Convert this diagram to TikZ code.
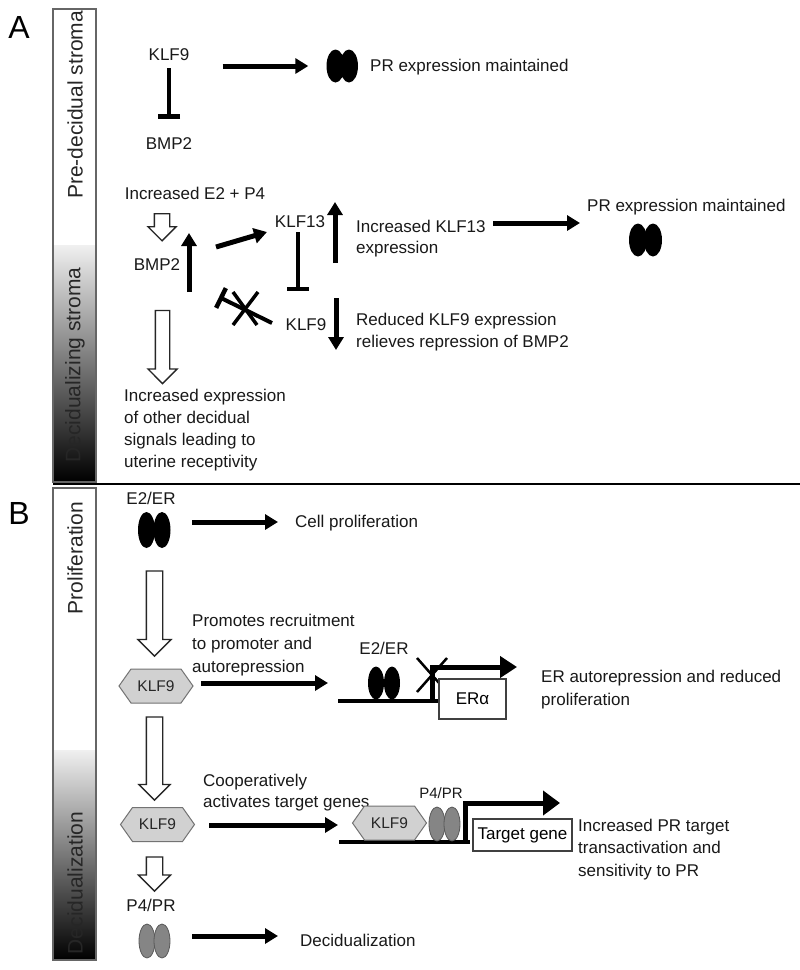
\documentclass[tikz,border=0pt]{standalone}
\usepackage{fontspec}
\setmainfont{Liberation Sans}
\usetikzlibrary{arrows.meta,shapes.arrows,shapes.geometric,calc}
\begin{document}
\begin{tikzpicture}[x=1pt,y=-1pt,
  txt/.style={font=\fontsize{17}{22}\selectfont, inner sep=0pt, text=black!90},
  txtl/.style={txt, align=left, anchor=west},
  panel/.style={font=\fontsize{32}{36}\selectfont, inner sep=0pt},
  side/.style={font=\fontsize{21}{24}\selectfont, rotate=90, inner sep=0pt, text=black!85},
  act/.style={line width=5pt, -{Triangle[length=13pt,width=15pt]}},
  inh/.style={line width=4.5pt, -{Bar[width=22pt,line width=4.5pt]}},
  crossl/.style={line width=3.5pt},
  hollow/.style={single arrow, draw=black!85, line width=1.3pt, fill=white, inner xsep=0pt, rotate=-90, single arrow head indent=0pt},
  blk/.style={ellipse, fill=black, inner sep=0pt, minimum width=18pt, minimum height=33pt},
  gry/.style={ellipse, fill=black!48, draw=black!65, line width=0.8pt, inner sep=0pt, minimum width=16pt, minimum height=34pt},
  hex/.style={rectangle, minimum width=76pt, minimum height=36pt, inner sep=0pt,
    font=\fontsize{15.5}{18}\selectfont, text=black!85,
    path picture={\filldraw[draw=black!55, fill=black!18, line width=1pt]
      ($(path picture bounding box.center)+(-37,0)$) -- ++(12,-17) -- ++(50,0)
      -- ++(12,17) -- ++(-12,17) -- ++(-50,0) -- cycle;}},
  gbox/.style={draw=black!75, line width=1.2pt, fill=white, inner sep=0pt, font=\fontsize{17}{20}\selectfont},
  dna/.style={line width=4pt},
  prom/.style={line width=5pt},
]
\useasboundingbox[fill=white] (0,0) rectangle (800,970);

% ---------- side bars ----------
\fill[white] (53,9) rectangle (96,482);
\shade[top color=black!6, bottom color=black] (53,245) rectangle (96,482);
\draw[black!60, line width=1.5pt] (53,9) rectangle (96,482);
\node[side] (preds) at (75,105) {Pre-decidual stroma};
\node[side] (decs) at (75,365) {Decidualizing stroma};

\fill[white] (53,488) rectangle (96,960);
\shade[top color=black!6, bottom color=black] (53,750) rectangle (96,960);
\draw[black!60, line width=1.5pt] (53,488) rectangle (96,960);
\node[side] (prol) at (75,558) {Proliferation};
\node[side] (decz) at (75,883) {Decidualization};

\draw[line width=2.2pt] (53,484) -- (800,484);

\node[panel] (lA) at (19,27) {A};
\node[panel] (lB) at (19,513) {B};

% ---------- Panel A, top ----------
\node[txt] (klfA) at (169,55) {KLF9};
\node[txt] (bmpA) at (169,144) {BMP2};
\draw[inh, shorten <=7pt, shorten >=19pt] (klfA.south) -- (bmpA.north);
\node[blk] (prA1) at (335.5,66) {};
\node[blk] (prA2) at (349,66) {};
\draw[act, shorten <=33pt, shorten >=18pt] (klfA.east |- prA1) -- (prA1.west);
\node[txt, anchor=west] (prtxtA) at (370,67) {PR expression maintained};

% ---------- Panel A, bottom ----------
\node[txt] (inc) at (195,193) {Increased E2 + P4};
\node[hollow, minimum height=27pt, inner ysep=7pt, single arrow head extend=6.5pt] (h1) at (162,223.5) {};
\node[txt] (bmpB) at (157,265) {BMP2};
\coordinate (upb0) at (189,292); \coordinate (upb1) at (189,233);
\draw[act] (upb0) -- (upb1);
\node[txt] (klf13) at (300,222) {KLF13};
\coordinate (d0) at (216,247); \coordinate (d1) at (267,232);
\draw[act] (d0) -- (d1);
\coordinate (i13) at (298,291);
\draw[inh, shorten <=4pt] (klf13.south -| i13) -- (i13);
\coordinate (u0) at (335,263); \coordinate (u1) at (335,202);
\draw[act] (u0) -- (u1);
\node[txtl, font=\fontsize{17}{21}\selectfont] (inc13) at (356,238.5) {Increased KLF13\\expression};
\coordinate (k0) at (493,223); \coordinate (k1) at (580,223);
\draw[act] (k0) -- (k1);
\node[txt, anchor=west] (prtxtB) at (587,207) {PR expression maintained};
\node[blk] (prB1) at (638,240) {};
\node[blk] (prB2) at (653,240) {};

\node[txt] (klf9B) at (306,325) {KLF9};
\coordinate (dn0) at (336,298); \coordinate (dn1) at (336,350);
\draw[act] (dn0) -- (dn1);
\node[txtl, font=\fontsize{17}{22}\selectfont] (red) at (356,332) {Reduced KLF9 expression\\relieves repression of BMP2};

\coordinate (ci0) at (272,323); \coordinate (ci1) at (219,297);
\draw[inh, line width=4pt] (ci0) -- (ci1);
\coordinate (xa0) at (233,325); \coordinate (xa1) at (258,292);
\coordinate (xb0) at (233,292); \coordinate (xb1) at (257,325);
\draw[crossl] (xa0) -- (xa1) (xb0) -- (xb1);

\node[hollow, minimum height=73pt, inner ysep=6.5pt, single arrow head extend=7.5pt] (h2) at (162.5,343.5) {};
\node[txtl, font=\fontsize{17}{22}\selectfont] (sig) at (124,430) {Increased expression\\of other decidual\\signals leading to\\uterine receptivity};

% ---------- Panel B ----------
\node[txt] (e2a) at (151,498) {E2/ER};
\node[blk, minimum width=17pt, minimum height=36pt] (er1) at (146.5,530) {};
\node[blk, minimum width=17pt, minimum height=36pt] (er2) at (162,530) {};
\coordinate (c0) at (192,522); \coordinate (c1) at (278,522);
\draw[act] (c0) -- (c1);
\node[txt, anchor=west] (cellp) at (295,523) {Cell proliferation};

\node[hollow, minimum height=85pt, inner ysep=7.5pt, single arrow head extend=8.5pt] (h3) at (154.5,609.5) {};
\node[hex] (hex1) at (156,686) {KLF9};
\node[txtl, font=\fontsize{17}{23}\selectfont] (promo) at (192,645) {Promotes recruitment\\to promoter and\\autorepression};
\coordinate (p0) at (201,683); \coordinate (p1) at (328,683);
\draw[act] (p0) -- (p1);

\draw[dna] (338,701) coordinate (dnaA0) -- (438,701) coordinate (dnaA1);
\node[txt] (e2b) at (384,648) {E2/ER};
\node[blk, minimum width=16pt, minimum height=33pt] (er3) at (376,683) {};
\node[blk, minimum width=16pt, minimum height=33pt] (er4) at (392,683) {};
\coordinate (pr0) at (432,701); \coordinate (pr1) at (517,667);
\draw[prom, -{Triangle[length=17pt,width=21pt]}] (pr0) |- (pr1);
\coordinate (xc0) at (417,658); \coordinate (xc1) at (447,692);
\coordinate (xd0) at (417,692); \coordinate (xd1) at (447,658);
\draw[line width=2.5pt] (xc0) -- (xc1) (xd0) -- (xd1);
\node[gbox, minimum width=67pt, minimum height=40pt] (era) at (472.5,699) {ERα};
\node[txtl, font=\fontsize{17}{23}\selectfont] (erauto) at (541,689.5) {ER autorepression and reduced\\proliferation};

\node[hollow, minimum height=83pt, inner ysep=7.5pt, single arrow head extend=7.5pt] (h4) at (154.5,754.5) {};
\node[hex] (hex2) at (157.5,824.5) {KLF9};
\node[txtl, font=\fontsize{17}{21}\selectfont] (coop) at (203,792.5) {Cooperatively\\activates target genes};
\coordinate (q0) at (209,825); \coordinate (q1) at (338,825);
\draw[act] (q0) -- (q1);

\draw[dna] (339,842) coordinate (dnaB0) -- (470,842) coordinate (dnaB1);
\node[hex] (hex3) at (389.5,823) {KLF9};
\node[txt, font=\fontsize{15}{18}\selectfont] (p4b) at (441,793) {P4/PR};
\node[gry] (pg3) at (437,824) {};
\node[gry] (pg4) at (452,824) {};
\coordinate (t0) at (465,842); \coordinate (t1) at (560,803);
\draw[prom, -{Triangle[length=17pt,width=24pt]}] (t0) |- (t1);
\node[gbox, minimum width=99pt, minimum height=32pt] (tg) at (522.5,835) {Target gene};
\node[txtl, font=\fontsize{17}{22.5}\selectfont] (inctr) at (578,849.5) {Increased PR target\\transactivation and\\sensitivity to PR};

\node[hollow, minimum height=34pt, inner ysep=7.5pt, single arrow head extend=8pt] (h5) at (154.5,870) {};
\node[txt] (p4a) at (151,905) {P4/PR};
\node[gry] (pg1) at (147,941) {};
\node[gry] (pg2) at (162,941) {};
\coordinate (r0) at (192,936); \coordinate (r1) at (278,936);
\draw[act] (r0) -- (r1);
\node[txt, anchor=west] (decd) at (300,940) {Decidualization};

\end{tikzpicture}
\end{document}
